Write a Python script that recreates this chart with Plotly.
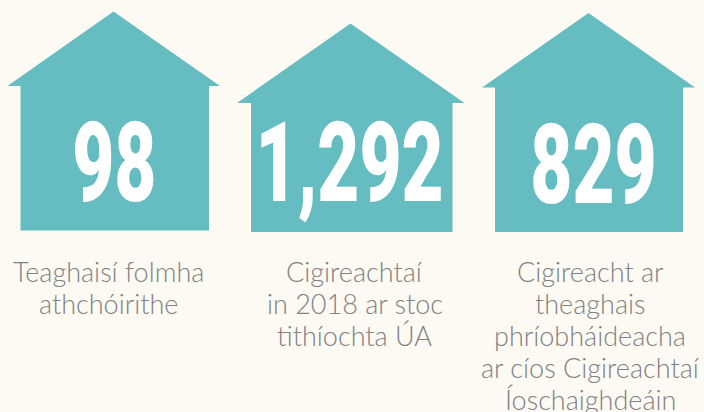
import plotly.graph_objects as go

values = ["98", "1,292", "829"]
captions = [
    ["Teaghaisí folmha", "athchóirithe"],
    ["Cigireachtaí", "in 2018 ar stoc", "tithíochta ÚA"],
    ["Cigireacht ar", "theaghais", "phríobháideacha", "ar cíos Cigireachtaí", "Íoschaighdeáin"],
]
TEAL = "#65bdc2"
BG = "#fdf9f3"
TEXT = "#808183"

# apex x, apex y, eave left, eave right, eave y, wall left, wall right, bottom
houses = [
    (113.5, 11.5, 7.5, 220, 86, 20.5, 209, 230.5),
    (350.5, 23.5, 237, 464.5, 103, 251, 452.5, 232),
    (588.5, 13, 482, 695, 87.5, 495, 683, 232),
]
number_x = [114, 349.5, 593.5]
number_y = [163, 163, 165]
number_size = 111
number_squeeze = 0.655
caption_x = [108, 354.5, 590]
caption_y = 271
line_h = 32

fig = go.Figure()
for h, v, nx, ny in zip(houses, values, number_x, number_y):
    ax, ay, el, er, ey, wl, wr, b = h
    fig.add_trace(go.Scatter(
        x=[ax, er, wr, wr, wl, wl, el, ax],
        y=[ay, ey, ey, b, b, ey, ey, ay],
        mode="lines", fill="toself", fillcolor=TEAL, line=dict(width=0),
        hoverinfo="skip", showlegend=False))
    fig.add_annotation(x=nx, y=ny, text=v, showarrow=False,
                       xanchor="center", yanchor="middle",
                       font=dict(family="Roboto", size=number_size, color="white", weight=900))

for lines, cx in zip(captions, caption_x):
    for i, line in enumerate(lines):
        fig.add_annotation(x=cx, y=caption_y + i * line_h, text=line, showarrow=False,
                           xanchor="center", yanchor="middle",
                           font=dict(family="Lato", size=27, color=TEXT, weight=300))

fig.update_xaxes(range=[0, 704], visible=False, fixedrange=True)
fig.update_yaxes(range=[412, 0], visible=False, fixedrange=True)
fig.update_layout(width=704, height=412, margin=dict(l=0, r=0, t=0, b=0),
                  paper_bgcolor=BG, plot_bgcolor=BG, showlegend=False)

post = """
document.body.style.margin = '0';
document.body.style.background = '%s';
document.documentElement.style.overflow = 'hidden';
document.querySelectorAll('.annotation-text').forEach(function (t) {
  if (parseFloat(t.style.fontSize) > 60) {
    t.style.transformBox = 'fill-box';
    t.style.transformOrigin = 'center';
    t.style.transform = 'scaleX(%s)';
  }
});
""" % (BG, number_squeeze)
fig.write_html("out.html", config=dict(displayModeBar=False), post_script=post)
